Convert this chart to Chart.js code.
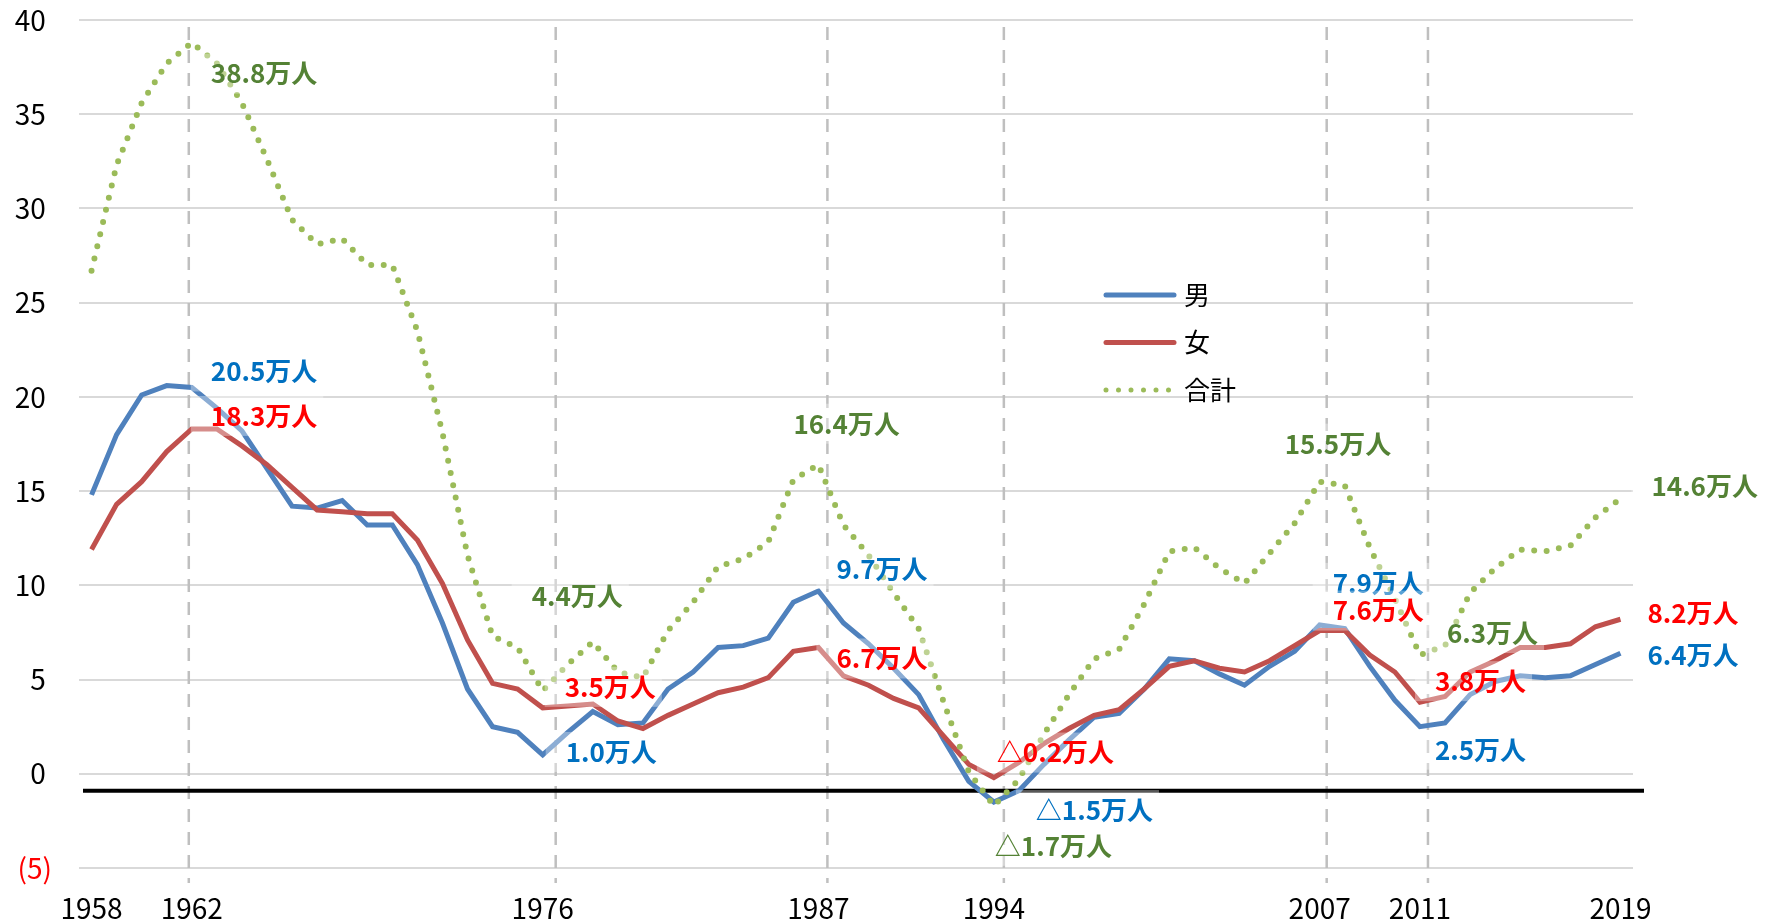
<!DOCTYPE html>
<html lang="ja">
<head>
<meta charset="utf-8">
<title>男女別 増減数の推移</title>
<script src="https://cdn.jsdelivr.net/npm/chart.js@4.4.1/dist/chart.umd.min.js"></script>
<style>
  html, body { margin: 0; padding: 0; background: #fff; }
  #wrap { width: 1768px; height: 923px; }
</style>
</head>
<body>
<div id="wrap"><canvas id="chart" width="1768" height="923"></canvas></div>
<script>
// Years (category axis)
const years = [1958,1959,1960,1961,1962,1963,1964,1965,1966,1967,1968,1969,1970,1971,1972,1973,1974,1975,1976,1977,
  1978,1979,1980,1981,1982,1983,1984,1985,1986,1987,1988,1989,1990,1991,1992,1993,1994,1995,1996,1997,
  1998,1999,2000,2001,2002,2003,2004,2005,2006,2007,2008,2009,2010,2011,2012,2013,2014,2015,2016,2017,2018,2019];

// Values (万人)
const male = [14.8,18.0,20.1,20.6,20.5,19.4,18.2,16.2,14.2,14.1,14.5,13.2,13.2,11.1,8.0,4.5,2.5,2.2,1.0,2.2,
  3.3,2.6,2.7,4.5,5.4,6.7,6.8,7.2,9.1,9.7,8.0,6.9,5.6,4.2,1.8,-0.4,-1.5,-0.9,0.5,1.8,
  3.0,3.2,4.5,6.1,6.0,5.3,4.7,5.7,6.5,7.9,7.7,5.7,3.9,2.5,2.7,4.2,4.9,5.2,5.1,5.2,5.8,6.4];
const female = [11.9,14.3,15.5,17.1,18.3,18.3,17.4,16.4,15.2,14.0,13.9,13.8,13.8,12.4,10.1,7.1,4.8,4.5,3.5,3.6,
  3.7,2.8,2.4,3.1,3.7,4.3,4.6,5.1,6.5,6.7,5.2,4.7,4.0,3.5,2.0,0.5,-0.2,0.6,1.6,2.4,
  3.1,3.4,4.5,5.7,6.0,5.6,5.4,6.0,6.8,7.6,7.6,6.3,5.4,3.8,4.1,5.4,6.0,6.7,6.7,6.9,7.8,8.2];
const total = [26.7,32.3,35.6,37.7,38.8,37.7,35.6,32.6,29.4,28.1,28.4,27.0,27.0,23.5,18.1,11.6,7.3,6.7,4.4,5.8,
  7.0,5.4,5.1,7.6,9.1,11.0,11.4,12.3,15.6,16.4,13.2,11.6,9.6,7.7,3.8,0.1,-1.7,-0.3,2.1,4.2,
  6.1,6.6,9.0,11.8,12.0,10.9,10.1,11.7,13.3,15.5,15.3,12.0,9.3,6.3,6.8,9.6,10.9,11.9,11.8,12.1,13.6,14.6];

// Axis tick labels
const tickYears = [1958,1962,1976,1987,1994,2007,2011,2019];
const yTicks = [-5,0,5,10,15,20,25,30,35,40];
// Years with dashed guide lines
const markYears = [1962,1976,1987,1994,2007,2011];

// Styles
const FONT = '"Noto Sans CJK JP", "Noto Sans", sans-serif';
const seriesColors = ['#4F81BD', '#C0504D', '#9BBB59'];
const labelColors = ['#0070C0', '#FF0000', '#548235'];
const dashShift = [-3, 13, 9, 10, 7, 8];

// Data labels: [dataset, year, dx (left edge), dy (centre)]
const labelSpots = [
  [2,1962,19,31],[0,1962,19,-16],[1,1962,19,-13],
  [2,1976,-11,-95],[1,1976,22,-21],[0,1976,23,-3],
  [2,1987,-25,-41],[0,1987,18,-22],[1,1987,18,11],
  [1,1994,3,-25],[0,1994,42,8],[2,1994,1,40],
  [2,2007,-35,-38],[0,2007,13,-42],[1,2007,13,-20],
  [2,2011,27,-22],[1,2011,15,-21],[0,2011,15,23],
  [2,2019,31,-13],[1,2019,27,-6],[0,2019,27,2]
];

Chart.defaults.font.family = FONT;

// guide lines and zero bar behind the series
const guides = {
  id: 'guides',
  beforeDatasetsDraw(chart) {
    const { ctx, chartArea, scales } = chart;
    ctx.save();
    ctx.strokeStyle = '#BFBFBF';
    ctx.lineWidth = 2.5;
    ctx.setLineDash([13, 10]);
    markYears.forEach((yr, k) => {
      const x = scales.x.getPixelForValue(years.indexOf(yr)) + dashShift[k];
      ctx.beginPath();
      ctx.moveTo(x, chartArea.top + 7);
      ctx.lineTo(x, chartArea.bottom + 15);
      ctx.stroke();
    });
    ctx.setLineDash([]);
    const yb = scales.y.getPixelForValue(-0.9);
    ctx.strokeStyle = '#000';
    ctx.lineWidth = 4;
    ctx.beginPath();
    ctx.moveTo(chartArea.left + 4, yb);
    ctx.lineTo(chartArea.right + 11, yb);
    ctx.stroke();
    ctx.restore();
  }
};

// value labels with a faint white box
const valueLabels = {
  id: 'valueLabels',
  afterDatasetsDraw(chart) {
    const { ctx } = chart;
    ctx.save();
    ctx.font = 'bold 26px ' + FONT;
    ctx.textBaseline = 'middle';
    ctx.textAlign = 'left';
    labelSpots.forEach(([ds, yr, dx, dy]) => {
      const i = years.indexOf(yr);
      const v = chart.data.datasets[ds].data[i];
      const pt = chart.getDatasetMeta(ds).data[i];
      const txt = (v < 0 ? '△' + Math.abs(v).toFixed(1) : v.toFixed(1)) + '万人';
      const x = pt.x + dx, y = pt.y + dy;
      const w = ctx.measureText(txt).width;
      ctx.fillStyle = 'rgba(255,255,255,0.35)';
      ctx.fillRect(x - 20, y - 20, w + 26, 40);
      ctx.fillStyle = labelColors[ds];
      ctx.fillText(txt, x, y);
    });
    ctx.restore();
  }
};

// legend drawn inside the plot
const innerLegend = {
  id: 'innerLegend',
  afterDraw(chart) {
    const { ctx } = chart;
    ctx.save();
    ctx.font = '26px ' + FONT;
    ctx.textBaseline = 'middle';
    chart.data.datasets.forEach((d, k) => {
      const y = 295 + k * 47.5;
      ctx.strokeStyle = d.borderColor;
      ctx.lineWidth = 5;
      ctx.lineCap = 'round';
      ctx.setLineDash(d.borderDash || []);
      ctx.beginPath();
      ctx.moveTo(1106, y);
      ctx.lineTo(1174, y);
      ctx.stroke();
      ctx.setLineDash([]);
      ctx.fillStyle = '#000';
      ctx.fillText(d.label, 1184, y);
    });
    ctx.restore();
  }
};

new Chart(document.getElementById('chart'), {
  type: 'line',
  data: {
    labels: years,
    datasets: [
      { label: '男', data: male, borderColor: seriesColors[0], borderWidth: 5, pointRadius: 0, order: 2 },
      { label: '女', data: female, borderColor: seriesColors[1], borderWidth: 5, pointRadius: 0, order: 1 },
      { label: '合計', data: total, borderColor: seriesColors[2], borderWidth: 6, pointRadius: 0, order: 0,
        borderDash: [0, 12.5], borderCapStyle: 'round' }
    ]
  },
  options: {
    responsive: false,
    animation: false,
    layout: { padding: { top: 20, right: 135, bottom: 0, left: 0 } },
    plugins: { legend: { display: false }, tooltip: { enabled: false } },
    scales: {
      x: {
        type: 'category',
        offset: true,
        grid: { display: false },
        border: { display: false },
        ticks: {
          autoSkip: false, maxRotation: 0, padding: 16, color: '#000', font: { size: 28 },
          callback: (v, i) => tickYears.includes(years[i]) ? String(years[i]) : ''
        },
        afterFit: s => { s.height = 55; s.paddingLeft = 0; s.paddingRight = 0; }
      },
      y: {
        min: yTicks[0],
        max: yTicks[yTicks.length - 1],
        afterBuildTicks: s => { s.ticks = yTicks.map(v => ({ value: v })); },
        grid: { color: '#D9D9D9', lineWidth: 2, drawTicks: false },
        border: { display: false },
        ticks: {
          padding: 27,
          font: { size: 28 },
          color: c => c.tick.value < 0 ? '#FF0000' : '#000',
          callback: v => v < 0 ? '(' + (-v) + ')' : v + ' '
        },
        afterFit: s => { s.width = 79; s.paddingTop = 0; s.paddingBottom = 0; }
      }
    }
  },
  plugins: [guides, valueLabels, innerLegend]
});
</script>
</body>
</html>
